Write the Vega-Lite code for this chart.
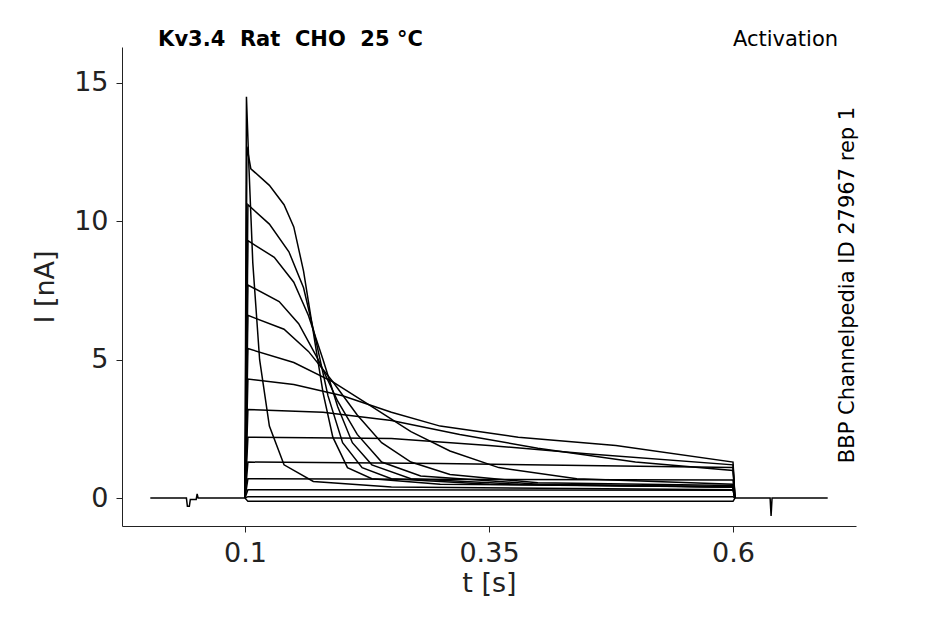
{
  "$schema": "https://vega.github.io/schema/vega-lite/v6.json",
  "width": 734,
  "height": 479,
  "autosize": "none",
  "padding": {"left": 122, "top": 47, "right": 89, "bottom": 98},
  "config": {"view": {"stroke": null}, "font": "DejaVu Sans"},
  "layer": [
    {
      "data": {"values": [
        {"k": "base", "t": 0.003, "I": 0}, {"k": "base", "t": 0.04, "I": 0}, {"k": "base", "t": 0.041, "I": -0.3}, {"k": "base", "t": 0.043, "I": -0.3}, {"k": "base", "t": 0.044, "I": -0.05}, {"k": "base", "t": 0.05, "I": -0.05}, {"k": "base", "t": 0.051, "I": 0.15}, {"k": "base", "t": 0.052, "I": 0}, {"k": "base", "t": 0.1, "I": 0},
        {"k": "post", "t": 0.602, "I": 0}, {"k": "post", "t": 0.638, "I": 0}, {"k": "post", "t": 0.639, "I": -0.65}, {"k": "post", "t": 0.64, "I": 0}, {"k": "post", "t": 0.697, "I": 0},
        {"k": "a", "t": 0.1, "I": 0}, {"k": "a", "t": 0.1015, "I": 14.5}, {"k": "a", "t": 0.104, "I": 12}, {"k": "a", "t": 0.108, "I": 8.5}, {"k": "a", "t": 0.115, "I": 5}, {"k": "a", "t": 0.125, "I": 2.6}, {"k": "a", "t": 0.14, "I": 1.2}, {"k": "a", "t": 0.17, "I": 0.6}, {"k": "a", "t": 0.25, "I": 0.4}, {"k": "a", "t": 0.6, "I": 0.3}, {"k": "a", "t": 0.602, "I": 0},
        {"k": "b", "t": 0.1, "I": 0}, {"k": "b", "t": 0.102, "I": 12.7}, {"k": "b", "t": 0.106, "I": 11.9}, {"k": "b", "t": 0.125, "I": 11.3}, {"k": "b", "t": 0.14, "I": 10.6}, {"k": "b", "t": 0.15, "I": 9.8}, {"k": "b", "t": 0.16, "I": 8.2}, {"k": "b", "t": 0.17, "I": 6}, {"k": "b", "t": 0.18, "I": 3.8}, {"k": "b", "t": 0.19, "I": 2.2}, {"k": "b", "t": 0.205, "I": 1.1}, {"k": "b", "t": 0.23, "I": 0.7}, {"k": "b", "t": 0.3, "I": 0.5}, {"k": "b", "t": 0.6, "I": 0.4}, {"k": "b", "t": 0.602, "I": 0},
        {"k": "c", "t": 0.1, "I": 0}, {"k": "c", "t": 0.103, "I": 10.6}, {"k": "c", "t": 0.125, "I": 9.9}, {"k": "c", "t": 0.145, "I": 8.9}, {"k": "c", "t": 0.16, "I": 7.6}, {"k": "c", "t": 0.172, "I": 5.8}, {"k": "c", "t": 0.185, "I": 3.7}, {"k": "c", "t": 0.2, "I": 2}, {"k": "c", "t": 0.22, "I": 1.1}, {"k": "c", "t": 0.25, "I": 0.7}, {"k": "c", "t": 0.35, "I": 0.5}, {"k": "c", "t": 0.6, "I": 0.4}, {"k": "c", "t": 0.602, "I": 0},
        {"k": "d", "t": 0.1, "I": 0}, {"k": "d", "t": 0.103, "I": 9.3}, {"k": "d", "t": 0.13, "I": 8.7}, {"k": "d", "t": 0.15, "I": 7.8}, {"k": "d", "t": 0.165, "I": 6.6}, {"k": "d", "t": 0.18, "I": 5}, {"k": "d", "t": 0.195, "I": 3.3}, {"k": "d", "t": 0.21, "I": 2}, {"k": "d", "t": 0.23, "I": 1.2}, {"k": "d", "t": 0.27, "I": 0.7}, {"k": "d", "t": 0.38, "I": 0.5}, {"k": "d", "t": 0.6, "I": 0.4}, {"k": "d", "t": 0.602, "I": 0},
        {"k": "e", "t": 0.1, "I": 0}, {"k": "e", "t": 0.103, "I": 7.7}, {"k": "e", "t": 0.135, "I": 7.1}, {"k": "e", "t": 0.155, "I": 6.3}, {"k": "e", "t": 0.175, "I": 5}, {"k": "e", "t": 0.195, "I": 3.5}, {"k": "e", "t": 0.215, "I": 2.3}, {"k": "e", "t": 0.24, "I": 1.3}, {"k": "e", "t": 0.28, "I": 0.8}, {"k": "e", "t": 0.4, "I": 0.5}, {"k": "e", "t": 0.6, "I": 0.4}, {"k": "e", "t": 0.602, "I": 0},
        {"k": "f", "t": 0.1, "I": 0}, {"k": "f", "t": 0.103, "I": 6.6}, {"k": "f", "t": 0.14, "I": 6.1}, {"k": "f", "t": 0.165, "I": 5.3}, {"k": "f", "t": 0.19, "I": 4.2}, {"k": "f", "t": 0.215, "I": 3}, {"k": "f", "t": 0.24, "I": 2}, {"k": "f", "t": 0.27, "I": 1.3}, {"k": "f", "t": 0.31, "I": 0.85}, {"k": "f", "t": 0.4, "I": 0.55}, {"k": "f", "t": 0.6, "I": 0.45}, {"k": "f", "t": 0.602, "I": 0},
        {"k": "g", "t": 0.1, "I": 0}, {"k": "g", "t": 0.103, "I": 5.4}, {"k": "g", "t": 0.15, "I": 4.9}, {"k": "g", "t": 0.19, "I": 4.2}, {"k": "g", "t": 0.23, "I": 3.3}, {"k": "g", "t": 0.27, "I": 2.4}, {"k": "g", "t": 0.31, "I": 1.7}, {"k": "g", "t": 0.36, "I": 1.1}, {"k": "g", "t": 0.44, "I": 0.7}, {"k": "g", "t": 0.6, "I": 0.5}, {"k": "g", "t": 0.602, "I": 0},
        {"k": "h", "t": 0.1, "I": 0}, {"k": "h", "t": 0.103, "I": 4.3}, {"k": "h", "t": 0.15, "I": 4.1}, {"k": "h", "t": 0.2, "I": 3.7}, {"k": "h", "t": 0.25, "I": 3.1}, {"k": "h", "t": 0.3, "I": 2.6}, {"k": "h", "t": 0.38, "I": 2.2}, {"k": "h", "t": 0.48, "I": 1.9}, {"k": "h", "t": 0.6, "I": 1.3}, {"k": "h", "t": 0.602, "I": 0},
        {"k": "i", "t": 0.1, "I": 0}, {"k": "i", "t": 0.103, "I": 3.2}, {"k": "i", "t": 0.18, "I": 3.1}, {"k": "i", "t": 0.25, "I": 2.8}, {"k": "i", "t": 0.32, "I": 2.3}, {"k": "i", "t": 0.4, "I": 1.8}, {"k": "i", "t": 0.5, "I": 1.3}, {"k": "i", "t": 0.6, "I": 1.0}, {"k": "i", "t": 0.602, "I": 0},
        {"k": "j", "t": 0.1, "I": 0}, {"k": "j", "t": 0.103, "I": 2.2}, {"k": "j", "t": 0.25, "I": 2.15}, {"k": "j", "t": 0.35, "I": 1.9}, {"k": "j", "t": 0.45, "I": 1.6}, {"k": "j", "t": 0.6, "I": 1.2}, {"k": "j", "t": 0.602, "I": 0},
        {"k": "k", "t": 0.1, "I": 0}, {"k": "k", "t": 0.103, "I": 1.3}, {"k": "k", "t": 0.3, "I": 1.25}, {"k": "k", "t": 0.6, "I": 1.1}, {"k": "k", "t": 0.602, "I": 0},
        {"k": "l", "t": 0.1, "I": 0}, {"k": "l", "t": 0.103, "I": 0.7}, {"k": "l", "t": 0.6, "I": 0.65}, {"k": "l", "t": 0.602, "I": 0},
        {"k": "m", "t": 0.1, "I": 0}, {"k": "m", "t": 0.103, "I": 0.3}, {"k": "m", "t": 0.6, "I": 0.28}, {"k": "m", "t": 0.602, "I": 0},
        {"k": "n", "t": 0.1, "I": 0}, {"k": "n", "t": 0.103, "I": 0.05}, {"k": "n", "t": 0.6, "I": 0.05}, {"k": "n", "t": 0.602, "I": 0},
        {"k": "o", "t": 0.1, "I": 0}, {"k": "o", "t": 0.103, "I": -0.12}, {"k": "o", "t": 0.6, "I": -0.12}, {"k": "o", "t": 0.602, "I": 0}
      ]},
      "mark": {"type": "line", "color": "black", "strokeWidth": 1.5},
      "encoding": {
        "detail": {"field": "k"},
        "x": {"field": "t", "type": "quantitative", "title": "t [s]", "scale": {"domain": [-0.026, 0.726], "nice": false},
          "axis": {"values": [0.1, 0.35, 0.6], "format": "~g", "grid": false, "labelFontSize": 27, "titleFontSize": 27, "titleFontWeight": "normal", "labelColor": "#222", "titleColor": "#222", "domainColor": "#222", "tickColor": "#222", "tickSize": 6, "labelPadding": 8, "titlePadding": 4}},
        "y": {"field": "I", "type": "quantitative", "title": "I [nA]", "scale": {"domain": [-1.01, 16.3], "nice": false},
          "axis": {"values": [0, 5, 10, 15], "grid": false, "labelFontSize": 27, "titleFontSize": 27, "titleFontWeight": "normal", "labelColor": "#222", "titleColor": "#222", "domainColor": "#222", "tickColor": "#222", "tickSize": 6, "labelPadding": 8, "titlePadding": 14}}
      }
    },
    {
      "data": {"values": [{"t": 0.011, "I": 16.55, "s": "Kv3.4\u00a0\u00a0Rat\u00a0\u00a0CHO\u00a0\u00a025\u00a0°C"}]},
      "mark": {"type": "text", "fontSize": 21, "fontWeight": "bold", "align": "left", "baseline": "middle", "color": "black"},
      "encoding": {"x": {"field": "t", "type": "quantitative"}, "y": {"field": "I", "type": "quantitative"}, "text": {"field": "s"}}
    },
    {
      "data": {"values": [{"t": 0.7076, "I": 16.55, "s": "Activation"}]},
      "mark": {"type": "text", "fontSize": 21, "align": "right", "baseline": "middle", "color": "black"},
      "encoding": {"x": {"field": "t", "type": "quantitative"}, "y": {"field": "I", "type": "quantitative"}, "text": {"field": "s"}}
    },
    {
      "data": {"values": [{"t": 0.718, "I": 7.7, "s": "BBP Channelpedia ID 27967 rep 1"}]},
      "mark": {"type": "text", "fontSize": 21, "angle": 270, "align": "center", "baseline": "middle", "color": "black"},
      "encoding": {"x": {"field": "t", "type": "quantitative"}, "y": {"field": "I", "type": "quantitative"}, "text": {"field": "s"}}
    }
  ]
}
